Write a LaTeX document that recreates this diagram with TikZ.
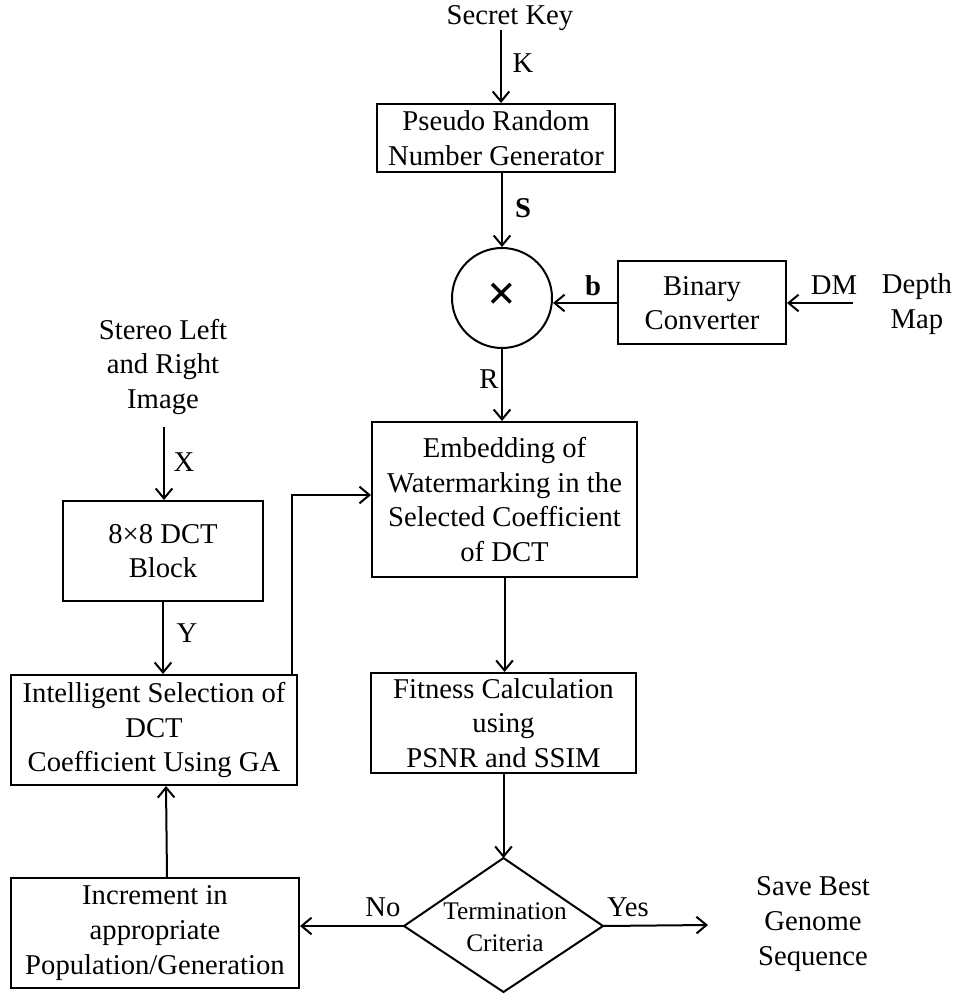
\documentclass[tikz,border=0pt]{standalone}
\usepackage{fontspec}
\setmainfont{Liberation Serif}
\usetikzlibrary{arrows.meta}
\begin{document}
\begin{tikzpicture}[x=0.75pt,y=-0.75pt,
  every node/.style={font=\fontsize{21.5}{26}\selectfont, align=center, inner sep=0pt},
  box/.style={draw, line width=1.5pt},
  arr/.style={line width=1.5pt, -{Straight Barb[length=7.5pt,width=12.5pt,line width=1.5pt]}},
  lbl/.style={font=\fontsize{21.5}{26}\selectfont},
  small/.style={font=\fontsize{19}{24}\selectfont}]
\useasboundingbox (0,0) rectangle (957,994);

% top chain
\node (key) at (510,18) {Secret Key};
\node[box, minimum width=178.5pt, minimum height=51pt] (prng) at (496,138) {Pseudo Random\\Number Generator};
\node[draw, circle, line width=1.5pt, minimum size=75pt] (mul) at (502,298) {};
\node[font=\fontsize{38}{38}\selectfont\bfseries] (times) at ([yshift=1pt]mul) {×};
\node[box, minimum width=126pt, minimum height=62.25pt] (bin) at (702,303) {Binary\\Converter};
\node (depth) at (917,304) {\fontsize{21.5}{28}\selectfont Depth\\Map};
\node[box, minimum width=198.75pt, minimum height=116.25pt] (emb) at (504.5,499.5)
  {Embedding of\\Watermarking in the\\Selected Coefficient\\of DCT};
\node[box, minimum width=198.75pt, minimum height=75pt] (fit) at (503.5,723)
  {Fitness Calculation\\using\\PSNR and SSIM};

% left chain
\node (stereo) at (163,367) {Stereo Left\\and Right\\Image};
\node[box, minimum width=150pt, minimum height=75pt] (dct) at (163,551) {8×8 DCT\\Block};
\node[box, minimum width=214.5pt, minimum height=82.5pt] (intel) at (154,730)
  {Intelligent Selection of\\DCT\\Coefficient Using GA};
\node[box, minimum width=216pt, minimum height=82.5pt] (incr) at (155,933)
  {Increment in\\appropriate\\Population/Generation};

% decision
\coordinate (dtop) at (503.5,858);
\coordinate (dleft) at (404,926);
\coordinate (dright) at (603,926);
\coordinate (dbot) at (503.5,992);
\draw[line width=1.5pt, line join=miter] (dtop) -- (dright) -- (dbot) -- (dleft) -- cycle;
\node[small] (term) at (505,927) {Termination\\Criteria};
\node (save) at (813,924) {Save Best\\Genome\\Sequence};

% labels
\node[lbl] (klbl) at (523,63) {K};
\node[lbl] (slbl) at (523,208) {\textbf{S}};
\node[lbl] (blbl) at (593,286) {\textbf{b}};
\node[lbl] (dmlbl) at (834,285) {DM};
\node[lbl] (rlbl) at (489,379) {R};
\node[lbl] (xlbl) at (184,462) {X};
\node[lbl] (ylbl) at (187,633) {Y};
\node[lbl] (nolbl) at (383,907) {No};
\node[lbl] (yeslbl) at (628,907) {Yes};

% connectors
\coordinate (kin) at (501,30);
\draw[arr] (kin) -- (kin |- prng.north);
\draw[arr] (prng.south -| mul) -- (mul.north);
\draw[arr] (bin.west) -- (mul.east |- bin.west);
\coordinate (dm) at (853,303);
\draw[arr] (dm) -- (bin.east |- dm);
\draw[arr] (mul.south) -- (mul.south |- emb.north);
\draw[arr] (emb.south) -- (emb.south |- fit.north);
\draw[arr] (fit.south) -- (dtop);
\draw[arr] (dleft) -- (incr.east |- dleft);
\coordinate (yesend) at (708,925);
\draw[arr] (dright) -- (yesend);
\draw[arr] ([xshift=9pt]incr.north) -- ([xshift=9pt]intel.south);
\coordinate (xin) at (164,427);
\draw[arr] (xin) -- (xin |- dct.north);
\draw[arr] (dct.south) -- (dct.south |- intel.north);
\coordinate (bend) at (292,495);
\draw[arr] (bend |- intel.north) -- (bend) -- (bend -| emb.west);
\end{tikzpicture}
\end{document}
